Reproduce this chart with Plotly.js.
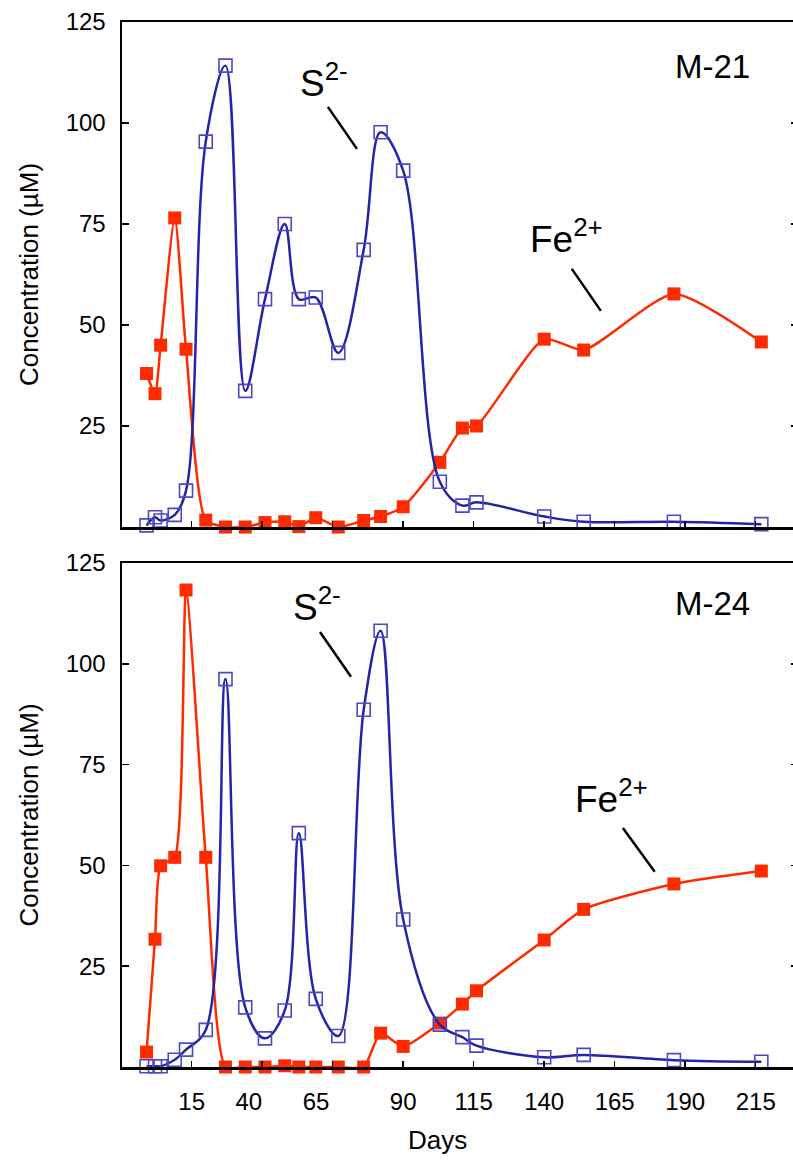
<!DOCTYPE html>
<html>
<head>
<meta charset="utf-8">
<script src="https://cdn.plot.ly/plotly-3.0.1.min.js"></script>
<style>
html,body{margin:0;padding:0;background:#fff;overflow:hidden;}
#chart{width:798px;height:1162px;}
</style>
</head>
<body>
<div id="chart"></div>
<script>
// Sampling days (shared by both cores)
const days = [-1, 2, 4, 9, 13, 20, 27, 34, 41, 48, 53, 59, 67, 76, 82, 90, 103, 111, 116, 140, 154, 186, 217];

// M-21
const m21Fe = [38, 33, 45, 76.5, 44, 1.7, 0, 0, 1.1, 1.3, 0.1, 2.3, 0, 1.6, 2.6, 5, 16, 24.5, 25, 46.5, 43.8, 57.7, 45.8];
const m21S  = [0.4, 2.4, 1.6, 3, 9, 95.4, 114.2, 33.7, 56.4, 75, 56.4, 56.8, 43.1, 68.6, 97.7, 88.2, 11.2, 5.3, 6.1, 2.6, 1.3, 1.3, 0.7];

// M-24
const m24Fe = [3.7, 31.7, 49.9, 52, 118.3, 52, 0, 0, 0, 0.3, 0, 0, 0, 0, 8.4, 5.1, 10.9, 15.6, 18.9, 31.5, 39.1, 45.4, 48.6];
const m24S  = [0.2, 0.2, 0.2, 1.8, 4.3, 9.2, 96.2, 14.8, 7.1, 14, 58, 16.9, 7.7, 88.6, 108.2, 36.6, 10.5, 7.4, 5.3, 2.4, 3.0, 1.7, 1.3];

const xTickVals = [15, 40, 65, 90, 115, 140, 165, 190, 215];
const xTickText = ['15', '40\u00a0\u00a0\u00a0\u00a0', '65\u00a0\u00a0\u00a0\u00a0\u00a0', '90', '115', '140', '165', '190', '215'];
const yTickVals = [25, 50, 75, 100, 125];
const yTickText = ['25', '50', '75', '100', '125'];

const panels = ['M-21', 'M-24'];
const seriesNames = ['Fe<sup>2+</sup>', 'S<sup>2-</sup>'];

const RED = '#ff2a00';
const BLUE = '#2424a8';
const FONT = 'Liberation Sans, Arial, Helvetica, sans-serif';

function feTrace(y, xa, ya) {
  return {x: days, y: y, xaxis: xa, yaxis: ya, type: 'scatter', mode: 'lines+markers',
    name: 'Fe2+', cliponaxis: false,
    line: {color: RED, width: 2.5, shape: 'spline', smoothing: 0.6},
    marker: {symbol: 'square', size: 13, color: RED, line: {width: 0}}};
}
function sTrace(y, xa, ya) {
  return {x: days, y: y, xaxis: xa, yaxis: ya, type: 'scatter', mode: 'lines+markers',
    name: 'S2-', cliponaxis: false,
    line: {color: BLUE, width: 2.5, shape: 'spline', smoothing: 1},
    marker: {symbol: 'square-open', size: 13, color: '#4a4ac4', line: {width: 1.6, color: '#4a4ac4'}}};
}

const data = [
  feTrace(m21Fe, 'x', 'y'), sTrace(m21S, 'x', 'y'),
  feTrace(m24Fe, 'x2', 'y2'), sTrace(m24S, 'x2', 'y2')
];

const H = 1162, W = 798;
const xBase = {
  domain: [122 / W, 1], range: [-9.7, 230], tickvals: xTickVals, ticktext: xTickText,
  ticks: 'inside', ticklen: 6, tickwidth: 1.5, tickcolor: '#000',
  showline: true, linecolor: '#000', linewidth: 2.5, mirror: true,
  showgrid: false, zeroline: false, ticklabelstandoff: 12,
  tickfont: {family: FONT, size: 24, color: '#000'}
};
const yBase = {
  range: [0, 125], tickvals: yTickVals, ticktext: yTickText,
  ticks: 'inside', ticklen: 7, tickwidth: 1.5, tickcolor: '#000',
  showline: true, linecolor: '#000', linewidth: 2.5, mirror: 'ticks',
  showgrid: false, zeroline: false, ticklabelstandoff: 9,
  tickfont: {family: FONT, size: 24, color: '#000'},
  title: {text: 'Concentration (µM)', font: {family: FONT, size: 26, color: '#000'}, standoff: 20}
};

const layout = {
  width: W, height: H, margin: {l: 0, r: 0, t: 0, b: 0},
  paper_bgcolor: '#fff', plot_bgcolor: '#fff', showlegend: false,
  font: {family: FONT, size: 22, color: '#000'},
  xaxis: Object.assign({}, xBase, {anchor: 'y', showticklabels: false}),
  yaxis: Object.assign({}, yBase, {anchor: 'x', domain: [1 - 527 / H, 1 - 22 / H]}),
  xaxis2: Object.assign({}, xBase, {anchor: 'y2', showticklabels: true}),
  yaxis2: Object.assign({}, yBase, {anchor: 'x2', domain: [1 - 1067 / H, 1 - 563 / H]}),
  annotations: [
    {xref: 'x', yref: 'y', x: 199.8, y: 114, text: panels[0], showarrow: false, font: {family: FONT, size: 33, color: '#000'}},
    {xref: 'x2', yref: 'y2', x: 199.8, y: 114.9, text: panels[1], showarrow: false, font: {family: FONT, size: 33, color: '#000'}},
    {xref: 'x', yref: 'y', x: 62, y: 110.5, text: seriesNames[1], showarrow: false, font: {family: FONT, size: 37, color: '#000'}},
    {xref: 'x', yref: 'y', x: 148, y: 72, text: seriesNames[0], showarrow: false, font: {family: FONT, size: 37, color: '#000'}},
    {xref: 'x2', yref: 'y2', x: 59.5, y: 114.7, text: seriesNames[1], showarrow: false, font: {family: FONT, size: 37, color: '#000'}},
    {xref: 'x2', yref: 'y2', x: 164, y: 67, text: seriesNames[0], showarrow: false, font: {family: FONT, size: 37, color: '#000'}},
    {xref: 'paper', yref: 'paper', x: 437 / W, y: 1 - 1140 / H, xanchor: 'center', yanchor: 'middle',
      text: 'Days', showarrow: false, font: {family: FONT, size: 26, color: '#000'}}
  ],
  shapes: [
    {type: 'line', xref: 'x', yref: 'y', x0: 63.3, y0: 104, x1: 73.6, y1: 93.6, line: {color: '#000', width: 2.5}},
    {type: 'line', xref: 'x', yref: 'y', x0: 149.8, y0: 63.9, x1: 160.1, y1: 53.5, line: {color: '#000', width: 2.5}},
    {type: 'line', xref: 'x2', yref: 'y2', x0: 60.5, y0: 107.9, x1: 71.5, y1: 96.8, line: {color: '#000', width: 2.5}},
    {type: 'line', xref: 'x2', yref: 'y2', x0: 167.9, y0: 59.3, x1: 179.2, y1: 48.4, line: {color: '#000', width: 2.5}}
  ]
};

Plotly.newPlot('chart', data, layout, {displayModeBar: false, staticPlot: true});
</script>
</body>
</html>
